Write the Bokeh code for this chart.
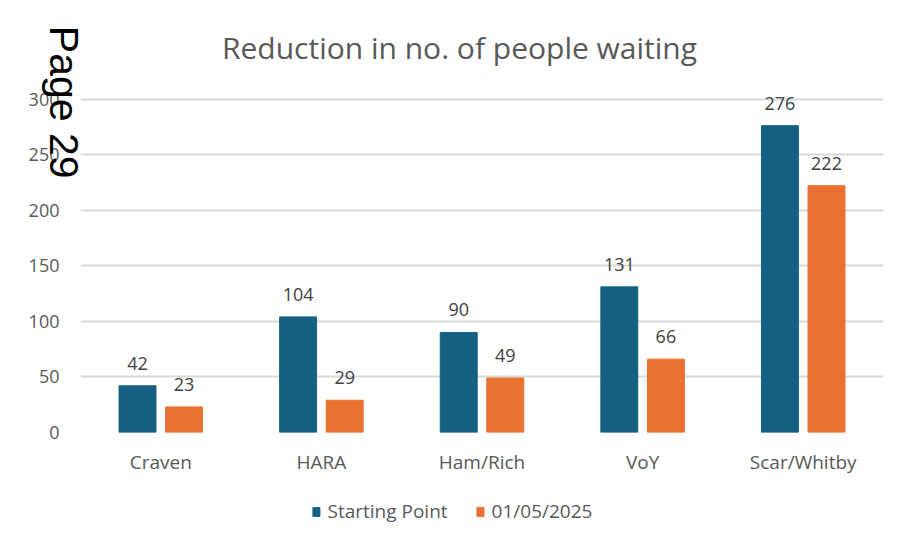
import math
from bokeh.plotting import figure
from bokeh.layouts import column
from bokeh.models import (ColumnDataSource, FactorRange, Range1d, Label, Legend, LegendItem,
                          LabelSet, LinearAxis, FixedTicker)
from bokeh.core.properties import value
from bokeh.transform import dodge
from bokeh.embed import file_html
from bokeh.resources import INLINE

categories = ["Craven", "HARA", "Ham/Rich", "VoY", "Scar/Whitby"]
starting_point = [42, 104, 90, 131, 276]
may_2025 = [23, 29, 49, 66, 222]
series_names = ["Starting Point", "01/05/2025"]
y_ticks = [0, 50, 100, 150, 200, 250, 300]

BLUE = "#156082"
ORANGE = "#E97132"
TXT = "#595959"
FONT = "Open Sans"

src = ColumnDataSource(dict(
    cat=categories,
    sp=starting_point,
    m5=may_2025,
    sp_lbl=[str(v) for v in starting_point],
    m5_lbl=[str(v) for v in may_2025],
))

# frame extends above the 300 gridline so the title can sit inside it
Y_TOP = 300 * 402 / 333.5
STAMP_Y = 274  # vertical position of the "Page 29" stamp (layout only)

p = figure(
    x_range=FactorRange(*categories), y_range=Range1d(0, Y_TOP),
    frame_width=803, frame_height=402, output_backend="svg", toolbar_location=None,
    min_border_left=80, min_border_right=21, min_border_top=30, min_border_bottom=60,
)
p.outline_line_color = None
p.background_fill_color = "white"
p.border_fill_color = "white"
p.title.visible = False

r1 = p.vbar(x=dodge("cat", -0.145, range=p.x_range), top="sp", width=0.23, source=src,
            fill_color=BLUE, line_color=BLUE)
r2 = p.vbar(x=dodge("cat", 0.145, range=p.x_range), top="m5", width=0.23, source=src,
            fill_color=ORANGE, line_color=ORANGE)

for off, col, lbl in ((-0.145, "sp", "sp_lbl"), (0.145, "m5", "m5_lbl")):
    ls = LabelSet(x=dodge("cat", off, range=p.x_range), y=col, text=lbl, source=src,
                  text_align="center", text_baseline="bottom", y_offset=16,
                  text_font=value(FONT), text_font_size=value("18px"),
                  text_color=value("#404040"))
    p.add_layout(ls)

# axes
for ax in (p.xaxis, p.yaxis):
    ax.axis_line_color = None
    ax.major_tick_line_color = None
    ax.minor_tick_line_color = None
    ax.major_tick_out = 0
    ax.major_tick_in = 0
    ax.minor_tick_out = 0
    ax.major_label_text_font = FONT
    ax.major_label_text_color = TXT
p.xaxis.major_label_text_font_size = "19px"
p.xaxis.major_label_standoff = 16
p.yaxis.major_label_text_font_size = "18px"
p.yaxis.ticker = y_ticks
p.yaxis.major_label_standoff = 21

p.xgrid.grid_line_color = None
p.ygrid.ticker = y_ticks
p.ygrid.grid_line_color = "#d9d9d9"
p.ygrid.grid_line_width = 2

# "Page 29" stamp, written top-to-bottom at the upper left (outer left axis label)
stamp_axis = LinearAxis(ticker=FixedTicker(ticks=[STAMP_Y]),
                        major_label_overrides={STAMP_Y: "Page 29"})
stamp_axis.axis_line_color = None
stamp_axis.major_tick_line_color = None
stamp_axis.minor_tick_line_color = None
stamp_axis.major_tick_out = 0
stamp_axis.major_tick_in = 0
stamp_axis.minor_tick_out = 0
stamp_axis.major_label_text_font = "Liberation Sans"
stamp_axis.major_label_text_font_size = "41px"
stamp_axis.major_label_text_color = "black"
stamp_axis.major_label_orientation = -math.pi / 2
stamp_axis.major_label_standoff = -38
p.add_layout(stamp_axis, "left")

# title (screen units: relative to the frame's bottom-left corner)
p.add_layout(Label(x=379, y=385, x_units="screen", y_units="screen",
                   text="Reduction in no. of people waiting", text_align="center",
                   text_baseline="middle", text_font=FONT, text_font_size="30px",
                   text_color=TXT))

# legend strip below (hidden copies of the bars supply the swatches)
lf = figure(x_range=p.x_range, y_range=p.y_range,
            frame_width=872, frame_height=38, min_border_left=32, min_border_right=0,
            min_border_top=0, min_border_bottom=0, output_backend="svg",
            toolbar_location=None, x_axis_location=None, y_axis_location=None)
lf.outline_line_color = None
lf.grid.grid_line_color = None
lf.title.visible = False
l1 = lf.vbar(x=dodge("cat", -0.145, range=p.x_range), top="sp", width=0.23, source=src,
             fill_color=BLUE, line_color=BLUE, visible=False)
l2 = lf.vbar(x=dodge("cat", 0.145, range=p.x_range), top="m5", width=0.23, source=src,
             fill_color=ORANGE, line_color=ORANGE, visible=False)
legend = Legend(items=[LegendItem(label=series_names[0], renderers=[l1]),
                       LegendItem(label=series_names[1], renderers=[l2])],
                orientation="horizontal", location="center",
                glyph_width=9, glyph_height=11, label_standoff=7, spacing=28,
                label_text_font=FONT, label_text_font_size="19px", label_text_color=TXT,
                border_line_color=None, background_fill_alpha=0, padding=0, margin=0,
                inactive_fill_alpha=0)
lf.add_layout(legend)

layout = column(p, lf, spacing=0)
open("out.html", "w").write(file_html(layout, INLINE))
